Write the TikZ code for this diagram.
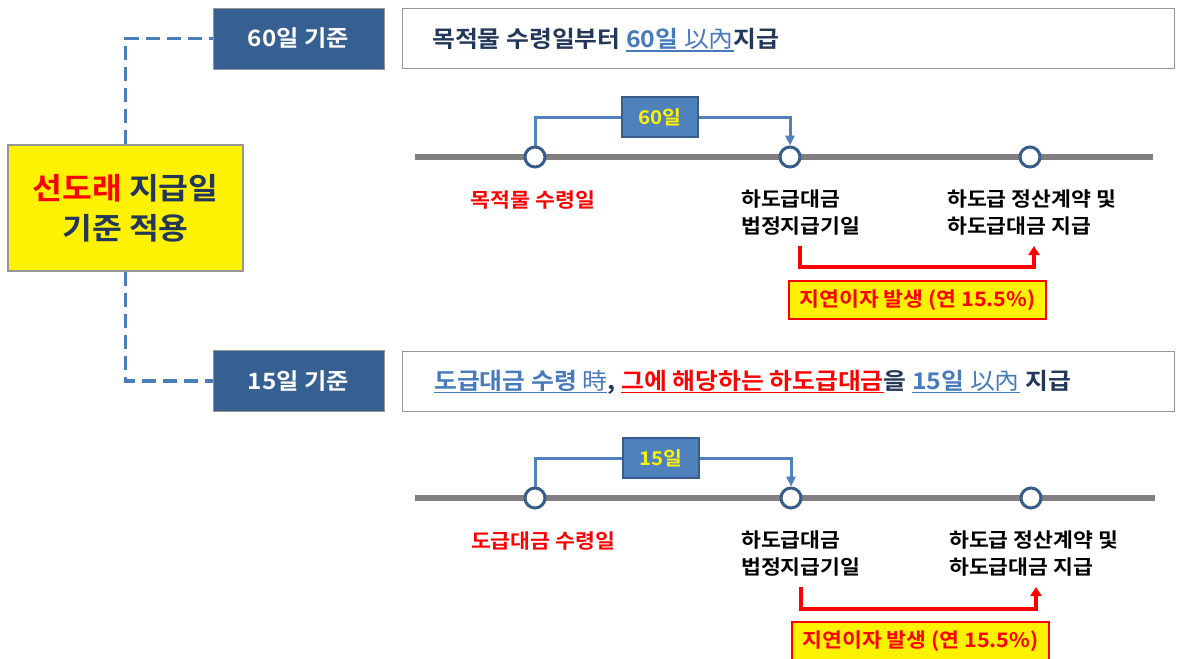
\documentclass[tikz,border=0pt]{standalone}
\usepackage{fontspec}
\setmainfont{Noto Sans CJK KR}[BoldFont={* Bold}, FakeStretch=1.08]
\usetikzlibrary{arrows.meta}
\definecolor{hdrblue}{RGB}{55,96,146}
\definecolor{boxblue}{RGB}{79,129,189}
\definecolor{boxblueline}{RGB}{56,93,138}
\definecolor{navytext}{RGB}{35,55,90}
\definecolor{tblue}{RGB}{70,122,188}
\definecolor{dashblue}{RGB}{74,126,187}
\definecolor{tlgray}{RGB}{128,128,128}
\definecolor{bordergray}{RGB}{150,150,150}
\newcommand\myul[1]{\setbox0=\hbox{#1}\rlap{\rule[-4pt]{\wd0}{1.3pt}}\box0}
\tikzset{
  hdrbox/.style={draw=bordergray, line width=1pt, fill=hdrblue, text=white, font=\bfseries\fontsize{22.5}{26}\selectfont, minimum width=171pt, minimum height=61pt, inner sep=0pt},
  txtbox/.style={draw=bordergray, line width=1pt, fill=white, minimum width=772pt, minimum height=60pt, inner sep=0pt},
  mainbox/.style={draw=bordergray, line width=1.5pt, fill=yellow, text=navytext, font=\bfseries\fontsize{30}{40}\selectfont, align=center, minimum width=235pt, minimum height=126pt, inner sep=0pt},
  dashconn/.style={draw=dashblue, line width=3.2pt, dash pattern=on 14pt off 7pt},
  tline/.style={draw=tlgray, line width=6pt},
  tcirc/.style={circle, draw=boxblueline, line width=3pt, fill=white, minimum size=20pt, inner sep=0pt},
  daybox/.style={draw=boxblueline, line width=1.5pt, fill=boxblue, text=yellow, font=\bfseries\fontsize{19}{22}\selectfont, minimum width=76pt, minimum height=40pt, inner sep=0pt},
  blueconn/.style={draw=boxblue, line width=3pt},
  redconn/.style={draw=red, line width=4pt, -{Triangle[length=9pt,width=11pt]}},
  delaybox/.style={draw=red, line width=1.5pt, fill=yellow, text=red, font=\bfseries\fontsize{20}{24}\selectfont, minimum width=257pt, minimum height=38pt, inner sep=0pt},
  lbl/.style={font=\bfseries\fontsize{20}{27}\selectfont, align=left, inner sep=0pt, anchor=west},
  lblred/.style={font=\bfseries\fontsize{20}{27}\selectfont, text=red, inner sep=0pt},
  bodytxt/.style={font=\bfseries\fontsize{23}{26}\selectfont, text=navytext, inner sep=0pt, anchor=west}
}
\begin{document}
\begin{tikzpicture}[x=1pt,y=-1pt]
\clip (0,0) rectangle (1179,659);
\fill[white] (0,0) rectangle (1179,659);

% main box
\node[mainbox] (main) at (125.5,208) {{\color{red}선도래} 지급일\\기준 적용};

% headers
\node[hdrbox] (h60) at (298.5,38.5) {60일 기준};
\node[hdrbox] (h15) at (298.5,381) {15일 기준};
\draw[dashconn] (main.north) |- (h60.west);
\draw[dashconn] (main.south) |- (h15.west);

% text boxes
\node[txtbox] (t60) at (788,38) {};
\node[bodytxt] (t60txt) at (432,40) {목적물 수령일부터 {\color{tblue}\myul{60일 {\mdseries 以內}}}지급};
\node[txtbox] (t15) at (788,381) {};
\node[bodytxt] (t15txt) at (434,382) {{\color{tblue}\myul{도급대금 수령 {\mdseries 時}}}, {\color{red}\myul{그에 해당하는 하도급대금}}을 {\color{tblue}\myul{15일 {\mdseries 以內}}} 지급};

% ---- timeline 1
\coordinate (l1a) at (415,157);
\coordinate (l1b) at (1153,157);
\draw[tline] (l1a) -- (l1b);
\node[tcirc] (a1) at (535,157) {};
\node[tcirc] (a2) at (790,157) {};
\node[tcirc] (a3) at (1030,157) {};
\node[daybox] (d60) at (660,117) {60일};
\draw[blueconn] (a1.north) |- (d60.west);
\draw[blueconn, -{Triangle[length=10pt,width=9pt]}] (d60.east) -| (a2.north);
\node[lblred] (la1) at (533,200) {목적물 수령일};
\node[lbl] (la2) at (741,213) {하도급대금\\법정지급기일};
\node[lbl] (la3) at (947,213) {하도급 정산계약 및\\하도급대금 지급};
\coordinate (r1s) at (800,246);
\coordinate (r1e) at (1034,246);
\draw[redconn] (r1s) -- (800,267) -| (r1e);
\node[delaybox] (y1) at (917.5,300) {지연이자 발생 (연 15.5\%)};

% ---- timeline 2
\coordinate (l2a) at (415,498);
\coordinate (l2b) at (1155,498);
\draw[tline] (l2a) -- (l2b);
\node[tcirc] (b1) at (535,498) {};
\node[tcirc] (b2) at (791,498) {};
\node[tcirc] (b3) at (1031,498) {};
\node[daybox] (d15) at (661,458) {15일};
\draw[blueconn] (b1.north) |- (d15.west);
\draw[blueconn, -{Triangle[length=10pt,width=9pt]}] (d15.east) -| (b2.north);
\node[lblred] (lb1) at (543,541) {도급대금 수령일};
\node[lbl] (lb2) at (741,554) {하도급대금\\법정지급기일};
\node[lbl] (lb3) at (949,554) {하도급 정산계약 및\\하도급대금 지급};
\coordinate (r2s) at (801,587);
\coordinate (r2e) at (1036,587);
\draw[redconn] (r2s) -- (801,609) -| (r2e);
\node[delaybox] (y2) at (920.5,641) {지연이자 발생 (연 15.5\%)};
\end{tikzpicture}
\end{document}
